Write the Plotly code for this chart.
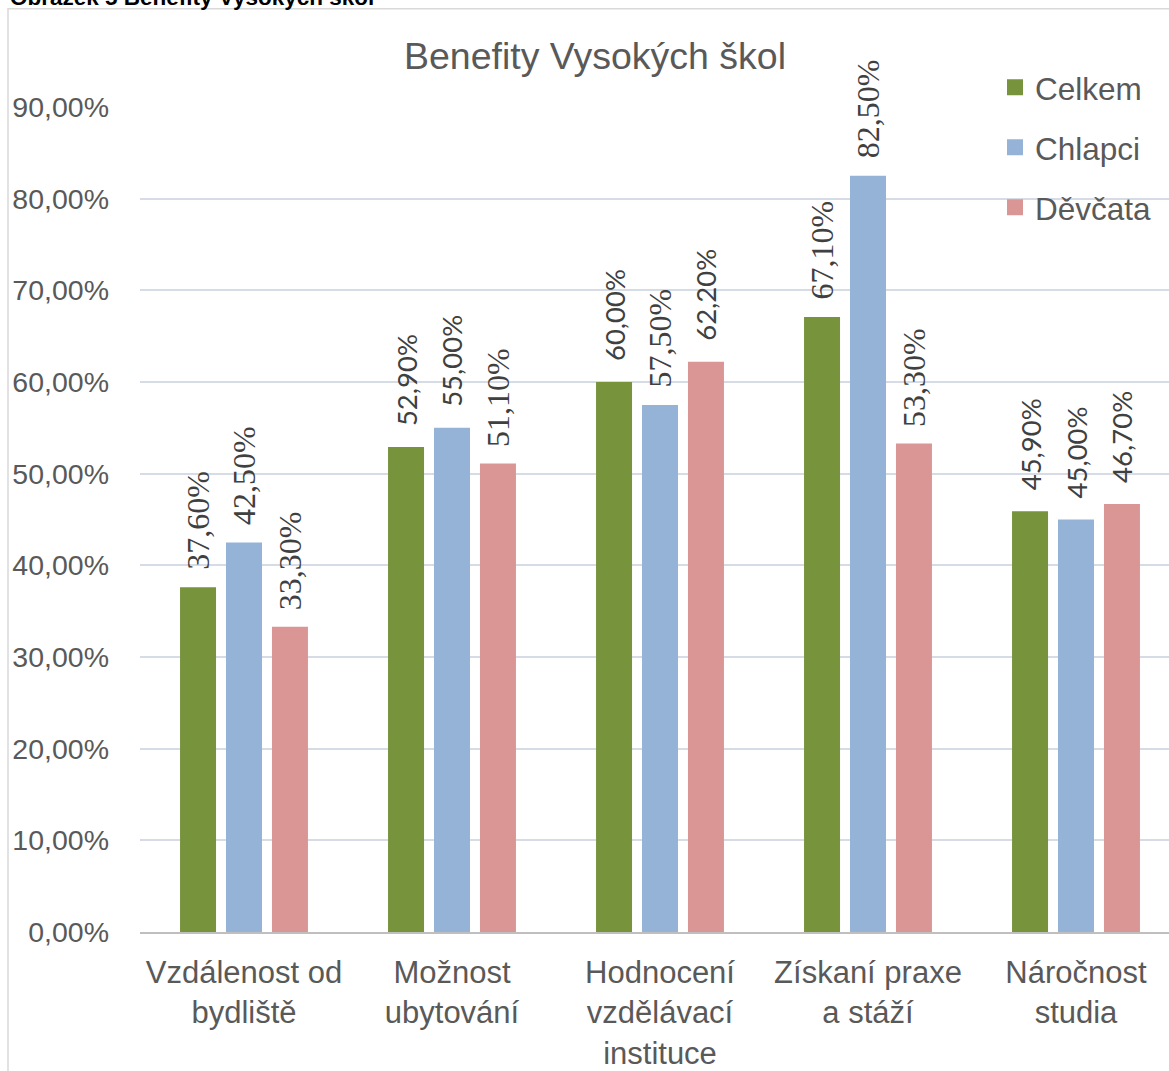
import plotly.graph_objects as go

# Benefity vysokých škol – podíl odpovědí podle skupiny respondentů
categories = [
    "Vzdálenost od<br>bydliště",
    "Možnost<br>ubytování",
    "Hodnocení<br>vzdělávací<br>instituce",
    "Získaní praxe<br>a stáží",
    "Náročnost<br>studia",
]
celkem = [0.376, 0.529, 0.600, 0.671, 0.459]
chlapci = [0.425, 0.550, 0.575, 0.825, 0.450]
devcata = [0.333, 0.511, 0.622, 0.533, 0.467]

series_names = ["Celkem", "Chlapci", "Děvčata"]
series_values = [celkem, chlapci, devcata]
series_colors = ["#77933C", "#95B3D7", "#D99694"]

y_tick_values = [0.0, 0.1, 0.2, 0.3, 0.4, 0.5, 0.6, 0.7, 0.8, 0.9]

# Label typefaces per series/category ("S" = serif, "N" = sans)
label_styles = [
    ["S", "N", "N", "S", "N"],
    ["S", "N", "S", "S", "N"],
    ["S", "S", "N", "S", "N"],
]
SERIF = dict(family="Liberation Serif, Times New Roman, DejaVu Serif, serif", size=32, gap=16)
SANS = dict(family="Lato, Open Sans, sans-serif", size=27.5, gap=20)

BARGAP = 0.337
BARGROUPGAP = 0.217

W, H = 1169, 1071
ML, MR, MT, MB = 140, 0, 107, 132
plot_w = W - ML - MR
plot_h = H - MT - MB


def px_x(px):
    return (px - ML) / plot_w


def px_y(py):
    return (H - MB - py) / plot_h


def pct_label(v):
    return f"{v * 100:.2f}%".replace(".", ",")


fig = go.Figure()
for name, vals, color in zip(series_names, series_values, series_colors):
    fig.add_trace(go.Bar(
        name=name,
        x=list(range(len(categories))),
        y=vals,
        marker=dict(color=color, line=dict(width=0)),
        showlegend=False,
        hoverinfo="skip",
    ))

# Legend entries with square swatches
for name, color in zip(series_names, series_colors):
    fig.add_trace(go.Scatter(
        name=name,
        x=[None], y=[None],
        mode="markers",
        marker=dict(symbol="square", size=16, color=color),
        legendgroup=name,
        showlegend=True,
        hoverinfo="skip",
    ))

# Value labels above each bar, rotated
n_series = len(series_names)
slot = (1 - BARGAP) / n_series
for si, (vals, styles) in enumerate(zip(series_values, label_styles)):
    offset = (si - (n_series - 1) / 2) * slot
    for ci, (v, s) in enumerate(zip(vals, styles)):
        spec = SERIF if s == "S" else SANS
        fig.add_annotation(
            x=ci + offset, y=v,
            xref="x", yref="y",
            text=pct_label(v),
            textangle=-90,
            xanchor="center", yanchor="bottom",
            yshift=spec["gap"],
            showarrow=False,
            font=dict(family=spec["family"], size=spec["size"], color="#404040"),
            borderpad=0,
        )

fig.update_layout(
    width=W,
    height=H,
    margin=dict(l=ML, r=MR, t=MT, b=MB),
    paper_bgcolor="white",
    plot_bgcolor="white",
    separators=", ",
    barmode="group",
    bargap=BARGAP,
    bargroupgap=BARGROUPGAP,
    font=dict(family="Liberation Sans", color="#595959"),
    title=dict(
        text="Benefity Vysokých škol",
        font=dict(family="Liberation Sans", size=37.5, color="#595959"),
        x=595 / W,
        xanchor="center",
        y=1 - 56 / H,
        yanchor="middle",
    ),
    legend=dict(
        x=px_x(995),
        y=px_y(60),
        xanchor="left",
        yanchor="top",
        bgcolor="rgba(0,0,0,0)",
        font=dict(family="Liberation Sans", size=31.5, color="#595959"),
        tracegroupgap=16,
        itemwidth=30,
    ),
    xaxis=dict(
        tickmode="array",
        tickvals=list(range(len(categories))),
        ticktext=categories,
        range=[-0.5, 4.5 - 11 / 208],
        showgrid=False,
        showline=True,
        linecolor="#BFBFBF",
        linewidth=1.5,
        ticks="",
        ticklabelstandoff=12,
        tickfont=dict(family="Liberation Sans", size=31, color="#595959"),
        fixedrange=True,
    ),
    yaxis=dict(
        range=[0, 0.9],
        tickmode="array",
        tickvals=y_tick_values,
        tickformat=".2%",
        showgrid=True,
        gridcolor="#D5DCE6",
        gridwidth=1.5,
        zeroline=False,
        showline=False,
        ticks="",
        ticklabelstandoff=30,
        tickfont=dict(family="Liberation Sans", size=28.5, color="#595959"),
        fixedrange=True,
    ),
)

# Chart frame
fig.add_shape(
    type="rect", xref="paper", yref="paper",
    x0=px_x(8), x1=px_x(1200), y0=px_y(1100), y1=px_y(8),
    line=dict(color="#D9D9D9", width=1.5), fillcolor="rgba(0,0,0,0)", layer="below",
)

# Caption above the chart frame
fig.add_annotation(
    text="<b>Obrázek 5 Benefity Vysokých škol</b>",
    xref="paper", yref="paper",
    x=px_x(8), y=px_y(11),
    xanchor="left", yanchor="bottom",
    showarrow=False,
    font=dict(family="Liberation Sans", size=22.5, color="#000000"),
)

fig.write_html("out.html")
